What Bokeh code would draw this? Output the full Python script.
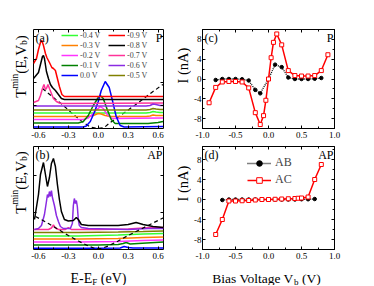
from math import pi
from bokeh.plotting import figure
from bokeh.layouts import column, row
from bokeh.models import (Range1d, LinearAxis, FixedTicker, Label, Legend, LegendItem,
                          CustomJSTickFormatter, PrintfTickFormatter)
from bokeh.embed import file_html
from bokeh.resources import INLINE

FONT = "Liberation Serif"

# ---------------- data ----------------
# panel (a): T^min(E,Vb), parallel (arbitrary stacked units)
a_x_m09 = [-0.65, -0.62, -0.6, -0.58, -0.566, -0.55, -0.53, -0.516, -0.49, -0.466, -0.45, -0.43, -0.41, -0.39, -0.365, -0.34, 0.65]
a_y_m09 = [6.5, 7.0, 7.9, 8.6, 8.8, 8.3, 7.5, 7.1, 6.6, 6.1, 6.0, 5.8, 5.0, 4.2, 3.4, 3.2, 3.2]
a_x_m08 = [-0.65, -0.6, -0.58, -0.56, -0.55, -0.54, -0.52, -0.5, -0.48, -0.46, -0.43, -0.4, -0.37, -0.34, 0.65]
a_y_m08 = [5.0, 5.6, 6.4, 7.2, 7.3, 7.0, 5.7, 5.0, 4.4, 4.1, 3.8, 3.4, 3.0, 2.9, 2.9]
a_x_m07 = [-0.65, -0.6, -0.58, -0.56, -0.545, -0.53, -0.52, -0.505, -0.49, -0.47, -0.45, -0.42, -0.39, -0.36, 0.65]
a_y_m07 = [2.6, 2.8, 3.3, 4.0, 4.4, 3.9, 4.0, 4.4, 4.0, 3.5, 3.0, 2.7, 2.55, 2.5, 2.55]
a_x_flat = [-0.65, 0.48, 0.52, 0.55, 0.58, 0.62, 0.65]
a_y_m06 = [2.25, 2.25, 2.3, 2.45, 2.4, 2.3, 2.3]
a_y_m05 = [1.85, 1.85, 1.9, 2.0, 1.95, 1.9, 1.9]
a_y_m04 = [1.55, 1.55, 1.6, 1.7, 1.65, 1.6, 1.6]
a_x_m03 = [-0.65, -0.1, -0.05, 0.0, 0.03, 0.07, 0.12, 0.48, 0.52, 0.55, 0.58, 0.65]
a_y_m03 = [1.2, 1.2, 1.3, 1.5, 1.45, 1.3, 1.2, 1.2, 1.25, 1.35, 1.3, 1.3]
a_x_m02 = [-0.65, -0.15, -0.1, -0.05, -0.02, 0.0, 0.02, 0.05, 0.09, 0.14, 0.65]
a_y_m02 = [0.9, 0.9, 1.05, 1.5, 1.9, 2.0, 2.2, 2.0, 1.4, 1.0, 1.05]
a_x_m01 = [-0.65, -0.2, -0.15, -0.1, -0.05, 0.0, 0.02, 0.05, 0.09, 0.13, 0.17, 0.5, 0.6, 0.65]
a_y_m01 = [0.55, 0.55, 0.7, 1.3, 2.3, 3.1, 3.3, 3.0, 1.9, 0.9, 0.5, 0.5, 0.6, 0.7]
a_x_00 = [-0.65, -0.15, -0.12, -0.08, -0.04, 0.0, 0.03, 0.07, 0.11, 0.14, 0.18, 0.22, 0.26, 0.65]
a_y_00 = [0.15, 0.15, 0.25, 0.7, 1.6, 2.7, 3.8, 4.7, 4.1, 2.9, 1.2, 0.3, 0.15, 0.2]
a_x_dash = [-0.56, -0.45, -0.35, -0.25, -0.15, -0.08, 0.0, 0.06, 0.12, 0.25, 0.35, 0.45, 0.55, 0.65]
a_y_dash = [4.0, 3.1, 2.3, 1.4, 0.6, 0.15, 0.0, 0.1, 0.6, 1.5, 2.2, 2.95, 3.7, 4.4]

# panel (b): T^min(E,Vb), antiparallel
b_x_m08 = [-0.64, -0.6, -0.58, -0.55, -0.53, -0.51, -0.49, -0.47, -0.45, -0.43, -0.41, -0.39, -0.37, -0.34, -0.3, -0.25, -0.22, -0.2, -0.17, -0.1, 0.2, 0.3, 0.38, 0.45, 0.55, 0.655]
b_y_m08 = [3.0, 5.5, 7.5, 8.7, 7.5, 6.3, 7.2, 8.6, 9.1, 8.3, 6.5, 5.0, 3.8, 3.0, 2.85, 2.9, 3.2, 3.0, 2.5, 2.4, 2.4, 2.5, 2.7, 2.5, 2.3, 2.2]
b_x_m06 = [-0.64, -0.6, -0.57, -0.54, -0.52, -0.51, -0.50, -0.49, -0.48, -0.47, -0.46, -0.44, -0.42, -0.40, -0.38, -0.35, -0.28, -0.26, -0.25, -0.24, -0.23, -0.22, -0.21, -0.20, -0.19, -0.17, -0.1, 0.3, 0.5, 0.655]
b_y_m06 = [2.0, 2.1, 2.4, 3.5, 4.8, 5.5, 5.2, 5.8, 5.3, 5.9, 5.2, 4.4, 3.4, 2.8, 2.3, 2.1, 2.1, 2.6, 4.4, 5.1, 4.6, 4.9, 4.3, 3.0, 2.4, 2.2, 2.1, 2.0, 2.1, 2.1]
b_x_m07 = [-0.65, -0.5, -0.47, -0.45, -0.43, -0.4, -0.33, -0.3, -0.27, -0.2, 0.0, 0.3, 0.45, 0.55, 0.655]
b_y_m07 = [2.0, 2.0, 2.15, 2.45, 2.15, 2.0, 2.0, 2.2, 2.0, 2.0, 2.0, 2.05, 2.15, 2.2, 2.2]
b_x_flat = [-0.65, -0.2, 0.2, 0.45, 0.655]
b_y_m05 = [1.7, 1.7, 1.75, 1.8, 1.85]
b_y_m04 = [1.35, 1.35, 1.45, 1.55, 1.6]
b_y_m03 = [1.05, 1.05, 1.1, 1.2, 1.25]
b_y_m02 = [0.75, 0.75, 0.8, 0.9, 0.95]
b_x_m01 = [-0.65, 0.0, 0.2, 0.25, 0.28, 0.32, 0.4, 0.655]
b_y_m01 = [0.45, 0.45, 0.5, 0.6, 0.7, 0.55, 0.6, 0.75]
b_x_00 = [-0.65, 0.0, 0.22, 0.26, 0.3, 0.35, 0.655]
b_y_00 = [0.12, 0.12, 0.15, 0.3, 0.2, 0.15, 0.15]
b_x_dash = [-0.63, -0.5, -0.4, -0.3, -0.2, -0.1, -0.03, 0.03, 0.1, 0.2, 0.3, 0.4, 0.5, 0.6, 0.66]
b_y_dash = [3.3, 2.6, 2.0, 1.4, 0.85, 0.35, 0.1, 0.1, 0.35, 0.85, 1.4, 1.9, 2.4, 2.9, 3.2]

# panel (c): I-V, parallel
c_x_ab = [-0.8, -0.7, -0.6, -0.5, -0.4, -0.3, -0.2, -0.125, 0.0, 0.1, 0.2, 0.3, 0.4, 0.5, 0.6, 0.7, 0.8]
c_y_ab = [-0.2, 0.0, 0.0, 0.0, -0.05, -0.3, -2.2, -2.9, 0.0, 2.9, 2.4, 0.3, 0.0, 0.0, 0.0, 0.05, 0.2]
c_x_ac = [-0.9, -0.8, -0.7, -0.6, -0.5, -0.4, -0.3, -0.2, -0.125, -0.075, -0.04, 0.0, 0.04, 0.075, 0.125, 0.2, 0.3, 0.4, 0.5, 0.6, 0.7, 0.8, 0.9]
c_y_ac = [-4.8, -1.7, -0.6, -0.5, -0.5, -0.6, -1.8, -6.8, -9.2, -7.4, -4.3, 0.0, 4.3, 7.4, 9.1, 6.9, 1.7, 0.7, 0.6, 0.6, 0.7, 1.7, 4.9]

# panel (d): I-V, antiparallel
d_x_ab = [-0.7, -0.6, -0.5, -0.4, -0.3, -0.2, -0.1, 0.0, 0.1, 0.2, 0.3, 0.4, 0.5, 0.6, 0.7]
d_y_ab = [-0.1, 0.0, 0.0, 0.0, 0.0, 0.0, 0.0, 0.0, 0.0, 0.0, 0.0, 0.0, 0.05, 0.05, 0.1]
d_x_ac = [-0.8, -0.7, -0.6, -0.5, -0.4, -0.3, -0.2, -0.1, 0.0, 0.1, 0.2, 0.3, 0.4, 0.45, 0.5, 0.6, 0.7, 0.8]
d_y_ac = [-7.0, -4.0, -0.3, -0.3, -0.25, -0.2, -0.1, 0.0, 0.0, 0.05, 0.1, 0.15, 0.2, 0.25, 0.3, 0.5, 4.0, 7.0]

volt_labels_col1 = ["-0.4 V", "-0.3 V", "-0.2 V", "-0.1 V", "0.0 V"]
volt_labels_col2 = ["-0.9 V", "-0.8 V", "-0.7 V", "-0.6 V", "-0.5 V"]

e_ticks = [-0.6, -0.3, 0.0, 0.3, 0.6]
e_minor = [-0.6, -0.45, -0.3, -0.15, 0.0, 0.15, 0.3, 0.45, 0.6]
v_ticks = [-1.0, -0.5, 0.0, 0.5, 1.0]
v_minor = [-1.0, -0.75, -0.5, -0.25, 0.0, 0.25, 0.5, 0.75, 1.0]
i_ticks = [-8, -4, 0, 4, 8]
i_minor = [-10, -8, -6, -4, -2, 0, 2, 4, 6, 8, 10]
ta_ticks = [2.3, 4.6, 6.9, 9.2]
tb_ticks = [3.7, 7.4]

COL = {
    "-0.9 V": "#ff0000", "-0.8 V": "#000000", "-0.7 V": "#ff3399", "-0.6 V": "#8a2be2",
    "-0.5 V": "#808000", "-0.4 V": "#33ff33", "-0.3 V": "#ff8000", "-0.2 V": "#ff33ff",
    "-0.1 V": "#008000", "0.0 V": "#0000ff",
}

# Times-like advance widths (per 1000 em)
W = {' ': 250, '(': 333, ')': 333, ',': 250, '-': 333, '.': 250, 'A': 722, 'B': 667, 'E': 611,
     'F': 556, 'I': 333, 'P': 556, 'T': 611, 'V': 722, 'a': 444, 'b': 500, 'e': 444, 'g': 500,
     'i': 278, 'l': 278, 'm': 778, 'n': 500, 'o': 500, 's': 389, 't': 278}


def tw(s, size):
    return sum(W.get(c, 500) for c in s) / 1000.0 * size


EMPTY = CustomJSTickFormatter(code="return ''")


def make_fig(fw, fh, xr, yr, bl, br, bt, bb, xt, xm, yt, ym, ylabels, xfmt, yfmt):
    p = figure(frame_width=fw, frame_height=fh, x_range=Range1d(*xr), y_range=Range1d(*yr),
               toolbar_location=None, output_backend="svg",
               x_axis_location=None, y_axis_location=None,
               min_border_left=bl, min_border_right=br, min_border_top=bt, min_border_bottom=bb)
    p.xgrid.visible = False
    p.ygrid.visible = False
    p.outline_line_color = "black"
    p.outline_line_width = 1
    p.outline_line_alpha = 1.0
    p.background_fill_color = "white"
    p.border_fill_color = "white"
    for loc, ticks, minor, show, fmt in [("below", xt, xm, True, xfmt), ("above", xt, xm, False, None),
                                          ("left", yt, ym, ylabels, yfmt), ("right", yt, ym, False, None)]:
        ax = LinearAxis(ticker=FixedTicker(ticks=ticks, minor_ticks=minor))
        ax.axis_line_color = None
        ax.major_tick_in = 3
        ax.major_tick_out = 0
        ax.minor_tick_in = 2
        ax.minor_tick_out = 0
        ax.major_tick_line_color = "black"
        ax.minor_tick_line_color = "black"
        ax.major_label_text_font = FONT
        ax.major_label_text_color = "black"
        if show:
            ax.formatter = PrintfTickFormatter(format=fmt)
            ax.major_label_text_font_size = "9px"
            ax.major_label_standoff = 3 if loc == "below" else 1
        else:
            ax.formatter = EMPTY
            ax.major_label_text_font_size = "1px"
            ax.major_label_standoff = 0
        p.add_layout(ax, loc)
    return p


def strip(w, h):
    s = figure(width=w, height=h, x_range=Range1d(0, 1), y_range=Range1d(0, 1),
               toolbar_location=None, output_backend="svg",
               x_axis_location=None, y_axis_location=None,
               min_border=0, min_border_left=0, min_border_right=0, min_border_top=0, min_border_bottom=0)
    s.xgrid.visible = False
    s.ygrid.visible = False
    s.outline_line_color = None
    s.background_fill_color = "white"
    s.border_fill_color = "white"
    return s


def corner_labels(p, fw, fh, left_text, right_text):
    p.add_layout(Label(x=2, y=fh - 1, x_units="screen", y_units="screen", text=left_text,
                       text_baseline="top", text_align="left", text_font=FONT, text_font_size="12px",
                       text_color="black"))
    p.add_layout(Label(x=fw - 1, y=fh - 1, x_units="screen", y_units="screen", text=right_text,
                       text_baseline="top", text_align="right", text_font=FONT, text_font_size="12px",
                       text_color="black"))


def seq_text(p, pieces, start, base, rotated):
    pos = start
    for text, size, shift, gap in pieces:
        if rotated:
            lab = Label(x=base - shift, y=pos, angle=pi / 2, text_align="left", text_baseline="alphabetic")
        else:
            lab = Label(x=pos, y=base + shift, text_align="left", text_baseline="alphabetic")
        lab.x_units = "screen"
        lab.y_units = "screen"
        lab.text = text
        lab.text_font = FONT
        lab.text_font_size = "%gpx" % size
        lab.text_color = "black"
        p.add_layout(lab)
        pos += tw(text, size) + gap


def seq_width(pieces):
    return sum(tw(t, sz) + g for t, sz, _, g in pieces)


def tmin_title(s, center_y):
    pieces = [("T", 15, 0, 0), ("min", 9.5, 6, 0), ("(E,V", 15, 0, 0), ("b", 9.5, -3, 0), (")", 15, 0, 0)]
    seq_text(s, pieces, center_y - seq_width(pieces) / 2.0, 20, True)


def current_title(s, center_y):
    s.add_layout(Label(x=9.5, y=center_y, x_units="screen", y_units="screen", text="I (nA)", angle=pi / 2,
                       text_align="center", text_baseline="middle", text_font=FONT, text_font_size="14.5px",
                       text_color="black"))


# ---------------- figures ----------------
XR_E = (-0.65, 0.655)

# row 1 (height 142): frames at y 29..128
ta = strip(29, 142)
pa = make_fig(130, 99, XR_E, (0, 9.9), 4, 10, 29, 14, e_ticks, e_minor, ta_ticks, [], False, "%.1f", None)
tc = strip(18, 142)
pc = make_fig(132, 99, (-1.0, 1.0), (-10, 10), 9, 36, 29, 14, v_ticks, v_minor, i_ticks, i_minor, True, "%.1f", "%d")
# row 2 (height 121): frames at y 146..249
tb = strip(29, 121)
pb = make_fig(130, 103, XR_E, (0, 10.3), 4, 10, 4, 14, e_ticks, e_minor, tb_ticks, [], False, "%.1f", None)
td = strip(18, 121)
pd = make_fig(132, 103, (-1.0, 1.0), (-10, 10.6), 9, 36, 4, 14, v_ticks, v_minor, i_ticks, i_minor, True, "%.1f", "%d")
# row 3: x-axis titles
tx = strip(368, 22)

# panel (a)
a_series = [
    ("-0.4 V", a_x_flat, a_y_m04), ("-0.3 V", a_x_m03, a_y_m03), ("-0.2 V", a_x_m02, a_y_m02),
    ("-0.1 V", a_x_m01, a_y_m01), ("0.0 V", a_x_00, a_y_00),
    ("-0.9 V", a_x_m09, a_y_m09), ("-0.8 V", a_x_m08, a_y_m08), ("-0.7 V", a_x_m07, a_y_m07),
    ("-0.6 V", a_x_flat, a_y_m06), ("-0.5 V", a_x_flat, a_y_m05),
]
pa.line(a_x_dash, a_y_dash, line_color="black", line_width=1.2, line_dash="4 3")
rends = {}
for name, xs, ys in a_series:
    rends[name] = pa.line(xs, ys, line_color=COL[name], line_width=1.5)

for labels, vx in [(volt_labels_col1, 28), (volt_labels_col2, 75)]:
    leg = Legend(items=[LegendItem(label=l, renderers=[rends[l]]) for l in labels],
                 location=(vx, 48), orientation="vertical",
                 glyph_width=17, glyph_height=10, label_height=10, spacing=0, padding=0, margin=0,
                 label_standoff=2, label_text_font=FONT, label_text_font_size="8px",
                 border_line_color=None, background_fill_alpha=0.0)
    pa.add_layout(leg)
corner_labels(pa, 130, 99, "(a)", "P")
tmin_title(ta, 142 - 80)

# panel (b)
b_series = [
    ("0.0 V", b_x_00, b_y_00), ("-0.1 V", b_x_m01, b_y_m01), ("-0.2 V", b_x_flat, b_y_m02),
    ("-0.3 V", b_x_flat, b_y_m03), ("-0.4 V", b_x_flat, b_y_m04), ("-0.5 V", b_x_flat, b_y_m05),
    ("-0.7 V", b_x_m07, b_y_m07), ("-0.6 V", b_x_m06, b_y_m06), ("-0.8 V", b_x_m08, b_y_m08),
]
for name, xs, ys in b_series:
    pb.line(xs, ys, line_color=COL[name], line_width=1.5)
pb.line(b_x_dash, b_y_dash, line_color="black", line_width=1.2, line_dash="4 3")
corner_labels(pb, 130, 103, "(b)", "AP")
tmin_title(tb, 121 - 54)

# panel (c)
pc.line(c_x_ab, c_y_ab, line_color="black", line_width=1.3, line_dash="1 1")
pc.scatter(c_x_ab, c_y_ab, marker="circle", size=3.5, fill_color="black", line_color="black")
pc.line(c_x_ac, c_y_ac, line_color="#ff0000", line_width=1.5)
pc.scatter(c_x_ac, c_y_ac, marker="square", size=4, fill_color="white", line_color="#ff0000", line_width=1)
corner_labels(pc, 132, 99, "(c)", "P")
current_title(tc, 142 - 79)

# panel (d)
ab_l = pd.line(d_x_ab, d_y_ab, line_color="black", line_width=1.3, line_dash="1 1")
ab_s = pd.scatter(d_x_ab, d_y_ab, marker="circle", size=3.5, fill_color="black", line_color="black")
ac_l = pd.line(d_x_ac, d_y_ac, line_color="#ff0000", line_width=1.5)
ac_s = pd.scatter(d_x_ac, d_y_ac, marker="square", size=4, fill_color="white", line_color="#ff0000", line_width=1)
leg_d = Legend(items=[LegendItem(label="AB", renderers=[ab_l, ab_s]), LegendItem(label="AC", renderers=[ac_l, ac_s])],
               location=(45, 62), orientation="vertical", glyph_width=24, glyph_height=14, label_height=14,
               spacing=2, padding=0, margin=0, label_standoff=4, label_text_font=FONT, label_text_font_size="12px",
               border_line_color=None, background_fill_alpha=0.0)
pd.add_layout(leg_d)
corner_labels(pd, 132, 103, "(d)", "AP")
current_title(td, 121 - 55)

# x-axis titles
e_pieces = [("E-E", 14, 0, 0), ("F", 9, -3, 3.5), ("(eV)", 14, 0, 0)]
seq_text(tx, e_pieces, 98 - seq_width(e_pieces) / 2.0, 7, False)
v_pieces = [("Bias Voltage V", 13.5, 0, -1.5), ("b", 9, -3, 3.4), ("(V)", 13.5, 0, 0)]
seq_text(tx, v_pieces, 266 - seq_width(v_pieces) / 2.0, 7, False)

layout = column(row(ta, pa, tc, pc), row(tb, pb, td, pd), tx)

with open("out.html", "w") as f:
    f.write(file_html(layout, INLINE))
